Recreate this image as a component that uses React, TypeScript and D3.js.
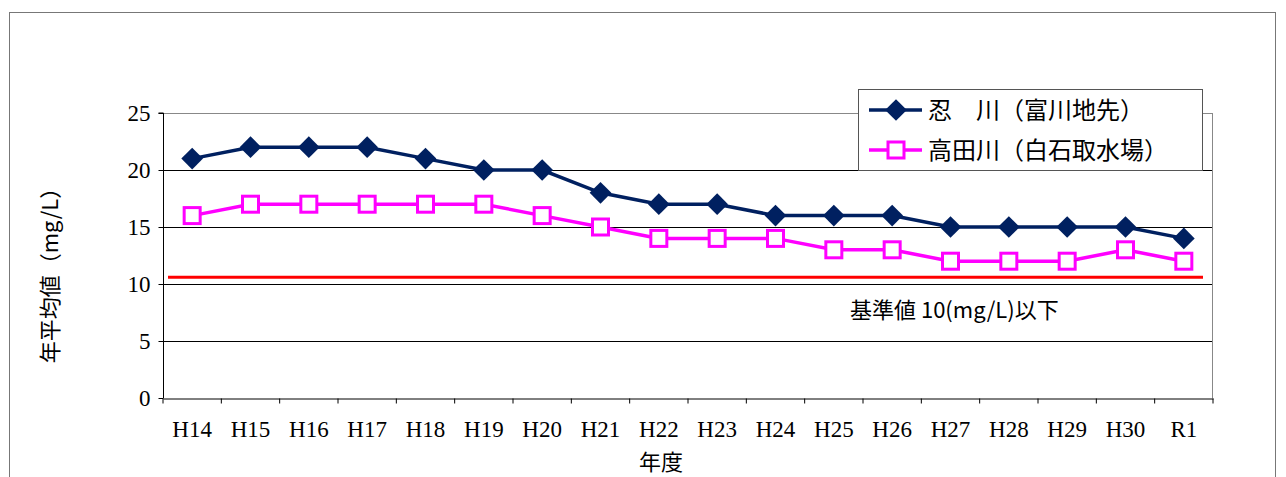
import { useEffect, useRef } from "react";
import * as d3 from "d3";

const years = ["H14","H15","H16","H17","H18","H19","H20","H21","H22","H23","H24","H25","H26","H27","H28","H29","H30","R1"];
const oshi = [21,22,22,22,21,20,20,18,17,17,16,16,16,15,15,15,15,14];
const takada = [16,17,17,17,17,17,16,15,14,14,14,13,13,12,12,12,13,12];
const yTicks = [0,5,10,15,20,25];
const standard = 10.6;

const App = () => {
  const ref = useRef<SVGSVGElement>(null);

  useEffect(() => {
    if (!ref.current) return;
    const svg = d3.select(ref.current);
    svg.selectAll("*").remove();

    const left = 163, right = 1213, top = 113, bottom = 398;
    const serif = "'Liberation Serif', 'Noto Sans CJK JP', serif";
    const jp = "'Noto Sans CJK JP', sans-serif";

    svg.append("rect").attr("x", 9.5).attr("y", 12.5).attr("width", 1266).attr("height", 480)
      .attr("fill", "white").attr("stroke", "#777");

    const x = d3.scaleBand<string>().domain(years).range([left, right]);
    const y = d3.scaleLinear().domain([0, 25]).range([bottom, top]);
    const cx = (d: string) => (x(d) ?? 0) + x.bandwidth() / 2;

    // gridlines
    svg.append("g").selectAll("line").data(yTicks.filter(t => t > 0 && t < 25)).join("line")
      .attr("x1", left).attr("x2", right).attr("y1", d => y(d) + 0.5).attr("y2", d => y(d) + 0.5)
      .attr("stroke", "black");
    svg.append("line").attr("x1", left).attr("x2", right).attr("y1", top + 0.5).attr("y2", top + 0.5).attr("stroke", "#888");
    svg.append("line").attr("x1", right - 0.5).attr("x2", right - 0.5).attr("y1", top).attr("y2", bottom).attr("stroke", "#888");

    // axes
    const ya = svg.append("g").attr("transform", `translate(${left + 0.5},0)`)
      .call(d3.axisLeft(y).tickValues(yTicks).tickSize(5).tickPadding(8));
    ya.select(".domain").attr("d", `M-5,${top}H0V${bottom}`);
    ya.selectAll("text").attr("font-family", serif).attr("font-size", 23).attr("fill", "#000");

    const xa = svg.append("g").attr("transform", `translate(0,${bottom + 0.5})`)
      .call(d3.axisBottom(x).tickSize(0).tickPadding(22));
    xa.select(".domain").attr("stroke", "black");
    xa.selectAll("text").attr("font-family", serif).attr("font-size", 23).attr("fill", "#000");
    xa.selectAll(".tk").data(d3.range(years.length + 1)).join("line")
      .attr("x1", i => left + i * x.step()).attr("x2", i => left + i * x.step())
      .attr("y1", 0).attr("y2", 5).attr("stroke", "black");

    svg.append("text").attr("x", 661).attr("y", 470).attr("text-anchor", "middle")
      .attr("font-family", jp).attr("font-size", 22).text("年度");
    svg.append("text").attr("transform", "translate(58,270) rotate(-90)").attr("text-anchor", "middle")
      .attr("font-family", jp).attr("font-size", 22).text("年平均値（mg/L）");

    // standard
    svg.append("line").attr("x1", left + 5).attr("x2", 1203).attr("y1", y(standard)).attr("y2", y(standard))
      .attr("stroke", "#ff0000").attr("stroke-width", 3);
    svg.append("text").attr("x", 850).attr("y", 318).attr("font-family", jp).attr("font-size", 22)
      .text("基準値 10(mg/L)以下");

    const line = d3.line<number>().x((_, i) => cx(years[i])).y(d => y(d));
    const navy = "#002060", pink = "#ff00ff";
    const diamond = d3.symbol(d3.symbolDiamond2, 300)();

    svg.append("path").datum(oshi).attr("d", line).attr("fill", "none").attr("stroke", navy).attr("stroke-width", 3.5);
    svg.append("g").selectAll("path").data(oshi).join("path")
      .attr("d", diamond)
      .attr("transform", (d, i) => `translate(${cx(years[i])},${y(d)})`).attr("fill", navy);

    svg.append("path").datum(takada).attr("d", line).attr("fill", "none").attr("stroke", pink).attr("stroke-width", 3.5);
    svg.append("g").selectAll("rect").data(takada).join("rect")
      .attr("x", (d, i) => cx(years[i]) - 8).attr("y", d => y(d) - 8).attr("width", 16).attr("height", 16)
      .attr("fill", "white").attr("stroke", pink).attr("stroke-width", 3);

    // legend
    const lg = svg.append("g");
    lg.append("rect").attr("x", 858.5).attr("y", 89.5).attr("width", 344).attr("height", 81)
      .attr("fill", "white").attr("stroke", "#555");
    lg.append("line").attr("x1", 869).attr("x2", 922).attr("y1", 110).attr("y2", 110).attr("stroke", navy).attr("stroke-width", 3.5);
    lg.append("path").attr("d", diamond).attr("transform", "translate(896,110)").attr("fill", navy);
    lg.append("line").attr("x1", 869).attr("x2", 922).attr("y1", 150).attr("y2", 150).attr("stroke", pink).attr("stroke-width", 3.5);
    lg.append("rect").attr("x", 888).attr("y", 142).attr("width", 16).attr("height", 16)
      .attr("fill", "white").attr("stroke", pink).attr("stroke-width", 3);
    lg.append("text").attr("x", 928).attr("y", 119).attr("font-family", jp).attr("font-size", 24).text("忍　川（富川地先）");
    lg.append("text").attr("x", 928).attr("y", 159).attr("font-family", jp).attr("font-size", 24).text("高田川（白石取水場）");
  }, []);

  return <svg ref={ref} width={1286} height={477} style={{ position: "absolute", left: 0, top: 0 }} />;
};

export default App;
